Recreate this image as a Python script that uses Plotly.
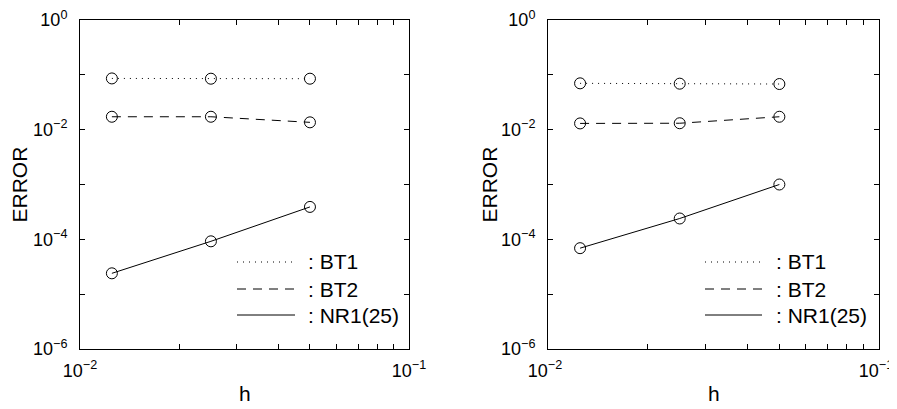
import plotly.graph_objects as go

# the page body has an 8px margin: lay the figure out in page pixels shifted by it
OFF = 8
W, H = 897 - OFF, 409 - OFF

# ---- data ----
h = [0.0125, 0.025, 0.05]
left_bt1 = [0.086, 0.085, 0.085]
left_bt2 = [0.0172, 0.0172, 0.0136]
left_nr1 = [2.4e-5, 9.2e-5, 3.9e-4]
right_bt1 = [0.070, 0.069, 0.068]
right_bt2 = [0.0130, 0.0131, 0.0172]
right_nr1 = [6.9e-5, 2.4e-4, 1.0e-3]

series_names = [": BT1", ": BT2", ": NR1(25)"]
dashes = ["1px,5px", "9px,7px", "solid"]

x_tickvals = [0.01, 0.1]
x_ticktext = ["10<sup>−2</sup>", "10<sup>−1</sup>"]
x_minorvals = [0.02, 0.03, 0.04, 0.05, 0.06, 0.07, 0.08, 0.09]
y_tickvals = [1e-6, 1e-4, 1e-2, 1]
y_ticktext = ["10<sup>−6</sup>", "10<sup>−4</sup>", "10<sup>−2</sup>", "10<sup>0</sup>"]
y_minorvals = [1e-5, 1e-3, 1e-1]

FONT = "Liberation Sans, Arial, Helvetica, sans-serif"

def px_x(p):
    return (p - OFF) / W

def px_y(p):
    return 1 - (p - OFF) / H

fig = go.Figure()

panels = [
    dict(xa="x", ya="y", data=[left_bt1, left_bt2, left_nr1]),
    dict(xa="x2", ya="y2", data=[right_bt1, right_bt2, right_nr1]),
]

for p in panels:
    for vals, dash in zip(p["data"], dashes):
        fig.add_trace(go.Scatter(
            x=h, y=vals, xaxis=p["xa"], yaxis=p["ya"],
            mode="lines+markers",
            line=dict(color="black", width=1, dash=dash),
            marker=dict(symbol="circle-open", size=11, color="black", line=dict(width=1)),
            showlegend=False,
        ))

ydom = [px_y(349), px_y(20)]
tick_common = dict(ticks="inside", ticklen=5, tickwidth=1, tickcolor="black",
                   showline=True, linecolor="black", linewidth=1, mirror="ticks",
                   showgrid=False, zeroline=False, automargin=False,
                   ticklabeloverflow="allow",
                   tickfont=dict(family=FONT, size=18, color="black"))
common_x = dict(type="log", range=[-2, -1], tickmode="array", tickvals=x_tickvals, ticktext=x_ticktext,
                minor=dict(tickmode="array", tickvals=x_minorvals, ticks="inside", ticklen=5,
                           tickcolor="black", tickwidth=1, showgrid=False),
                ticklabelstandoff=5, **tick_common)
common_y = dict(type="log", range=[-6, 0], tickmode="array", tickvals=y_tickvals, ticktext=y_ticktext,
                minor=dict(tickmode="array", tickvals=y_minorvals, ticks="inside", ticklen=5,
                           tickcolor="black", tickwidth=1, showgrid=False),
                ticklabelstandoff=8, **tick_common)

fig.update_layout(
    width=W, height=H,
    margin=dict(l=0, r=0, t=0, b=0, autoexpand=False),
    paper_bgcolor="white", plot_bgcolor="white",
    xaxis=dict(domain=[px_x(80), px_x(409)], anchor="y", **common_x),
    yaxis=dict(domain=ydom, anchor="x", **common_y),
    xaxis2=dict(domain=[px_x(548), px_x(879)], anchor="y2", ticklabelshift=-3, **common_x),
    yaxis2=dict(domain=ydom, anchor="x2", **common_y),
    showlegend=False,
)

annotations = []
shapes = []
# axis titles
for cx_title, cx_plot in [(19, 244.5), (489, 713.5)]:
    annotations.append(dict(text="ERROR", x=px_x(cx_title), y=px_y(184.5), xref="paper", yref="paper",
                            textangle=-90, showarrow=False, xanchor="center", yanchor="middle",
                            font=dict(family=FONT, size=21, color="black")))
    annotations.append(dict(text="h", x=px_x(cx_plot), y=px_y(393), xref="paper", yref="paper",
                            showarrow=False, xanchor="center", yanchor="middle",
                            font=dict(family=FONT, size=21, color="black")))

# manual legends
legend_rows = [262, 289, 315]
for (lx0, lx1, tx) in [(237, 295, 306), (705, 762, 774)]:
    for name, dash, ry in zip(series_names, dashes, legend_rows):
        shapes.append(dict(type="line", xref="paper", yref="paper",
                           x0=px_x(lx0), x1=px_x(lx1), y0=px_y(ry), y1=px_y(ry),
                           line=dict(color="black", width=1, dash=dash)))
        annotations.append(dict(text=name, x=px_x(tx), y=px_y(ry), xref="paper", yref="paper",
                                showarrow=False, xanchor="left", yanchor="middle",
                                font=dict(family=FONT, size=21, color="black")))

fig.update_layout(annotations=annotations, shapes=shapes)
fig.write_html("out.html")
